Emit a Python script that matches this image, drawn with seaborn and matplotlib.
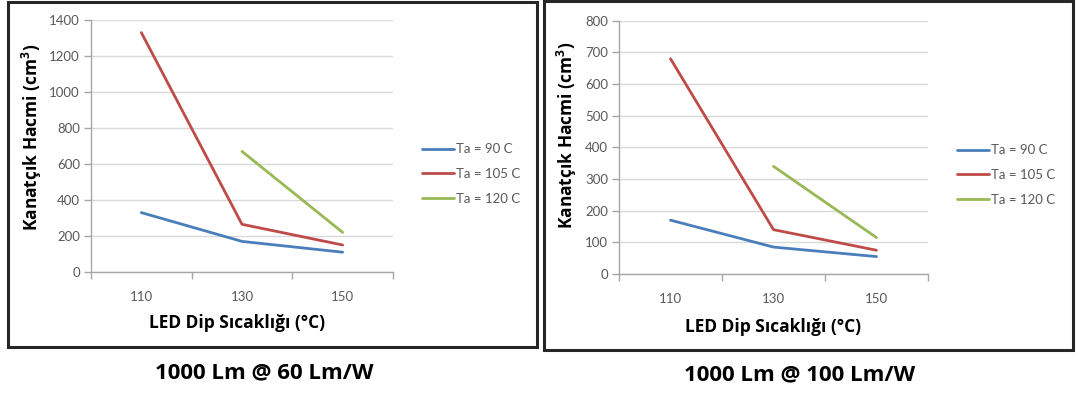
import numpy as np
import pandas as pd
import matplotlib
matplotlib.use("Agg")
import matplotlib.pyplot as plt
from matplotlib.patches import Rectangle
from matplotlib.lines import Line2D
import seaborn as sns

# ---- data ----
temps = [110, 130, 150]
series_names = ["Ta = 90 C", "Ta = 105 C", "Ta = 120 C"]
left_ta90 = [330, 170, 110]
left_ta105 = [1330, 265, 150]
left_ta120 = [np.nan, 670, 220]
right_ta90 = [170, 85, 55]
right_ta105 = [680, 140, 75]
right_ta120 = [np.nan, 340, 115]
left_yticks = [0, 200, 400, 600, 800, 1000, 1200, 1400]
right_yticks = [0, 100, 200, 300, 400, 500, 600, 700, 800]
xtick_labels = ["110", "130", "150"]
ylabel = "Kanatçık Hacmi (cm$^3$)"
xlabel = "LED Dip Sıcaklığı (°C)"
title_left = "1000 Lm @ 60 Lm/W"
title_right = "1000 Lm @ 100 Lm/W"

colors = ["#4a7ebb", "#be4b48", "#98b954"]

sns.set_theme(style="white")
plt.rcParams['font.family'] = ['Lato', 'DejaVu Sans']
plt.rcParams['mathtext.fontset'] = 'custom'
plt.rcParams['mathtext.rm'] = 'Open Sans:bold'
plt.rcParams['mathtext.bf'] = 'Open Sans:bold'
BOLD = ['Open Sans', 'DejaVu Sans']

W, H = 1080, 394
fig = plt.figure(figsize=(W / 100, H / 100), dpi=100)
fig.patch.set_facecolor("white")


def long_df(a, b, c):
    rows = []
    for name, vals in zip(series_names, [a, b, c]):
        for t, v in zip(temps, vals):
            rows.append({"temp": t, "vol": v, "series": name})
    return pd.DataFrame(rows)


def px_axes(l, t, r, b):
    return fig.add_axes([l / W, 1 - b / H, (r - l) / W, (b - t) / H])


def draw(ax, df, yticks, legend_xy, ylab_xy, xlab_xy):
    sns.lineplot(data=df, x="temp", y="vol", hue="series", palette=colors,
                 hue_order=series_names, linewidth=2.0, ax=ax, legend=False,
                 errorbar=None, sort=False)
    ax.set_xlim(100, 160)
    ax.set_ylim(yticks[0], yticks[-1])
    ax.set_yticks(yticks)
    ax.set_yticklabels([str(v) for v in yticks])
    ax.set_xticks([110, 130, 150])
    ax.set_xticklabels(xtick_labels)
    ax.set_xticks([100, 120, 140, 160], minor=True)
    ax.tick_params(axis="x", which="major", length=0, pad=14,
                   labelsize=9.5, labelcolor="#595959")
    ax.tick_params(axis="x", which="minor", length=5, width=1,
                   color="#a6a6a6", direction="out", bottom=True)
    ax.tick_params(axis="y", length=5, width=1, color="#a6a6a6",
                   direction="out", left=True, labelsize=9.5,
                   labelcolor="#595959", pad=3)
    ax.grid(axis="y", color="#d9d9d9", linewidth=1)
    ax.grid(axis="x", visible=False)
    for s in ["top", "right"]:
        ax.spines[s].set_visible(False)
    for s in ["left", "bottom"]:
        ax.spines[s].set_color("#a6a6a6")
        ax.spines[s].set_linewidth(1)
    ax.set_axisbelow(True)
    ax.set_ylabel(ylabel, fontsize=12.5, fontweight="bold", color="black",
                  family=BOLD)
    ax.set_xlabel(xlabel, fontsize=12.5, fontweight="bold", color="black",
                  family=BOLD)
    ax.yaxis.label.set_va("center")
    ax.xaxis.label.set_va("center")
    ax.yaxis.set_label_coords(*ylab_xy)
    ax.xaxis.set_label_coords(*xlab_xy)
    handles = [Line2D([], [], color=c, lw=2.0) for c in colors]
    fig.legend(handles, series_names, loc="center left",
               bbox_to_anchor=legend_xy, frameon=False, fontsize=9.5,
               handlelength=2.4, handletextpad=0.2, labelspacing=0.95,
               labelcolor="#595959")


axL = px_axes(91, 20, 393, 272)
draw(axL, long_df(left_ta90, left_ta105, left_ta120), left_yticks,
     (410 / W, 1 - 174 / H), (-0.195, 0.536), (0.483, -0.202))

axR = px_axes(619, 20.7, 928, 274)
draw(axR, long_df(right_ta90, right_ta105, right_ta120), right_yticks,
     (945 / W, 1 - 175 / H), (-0.168, 0.549), (0.498, -0.209))

# frames
for (l, t, r, b) in [(8, 2, 537, 347), (544, 1, 1073, 350)]:
    fig.patches.append(Rectangle((l / W, 1 - b / H), (r - l) / W, (b - t) / H,
                                 transform=fig.transFigure, fill=False,
                                 edgecolor="#262626", linewidth=2.2))

fig.text(264 / W, 1 - 373 / H, title_left, ha="center", va="center",
         fontsize=16, fontweight="bold", color="black", family=BOLD)
fig.text(800 / W, 1 - 375 / H, title_right, ha="center", va="center",
         fontsize=16, fontweight="bold", color="black", family=BOLD)

fig.savefig("out.png", dpi=100, facecolor="white")
